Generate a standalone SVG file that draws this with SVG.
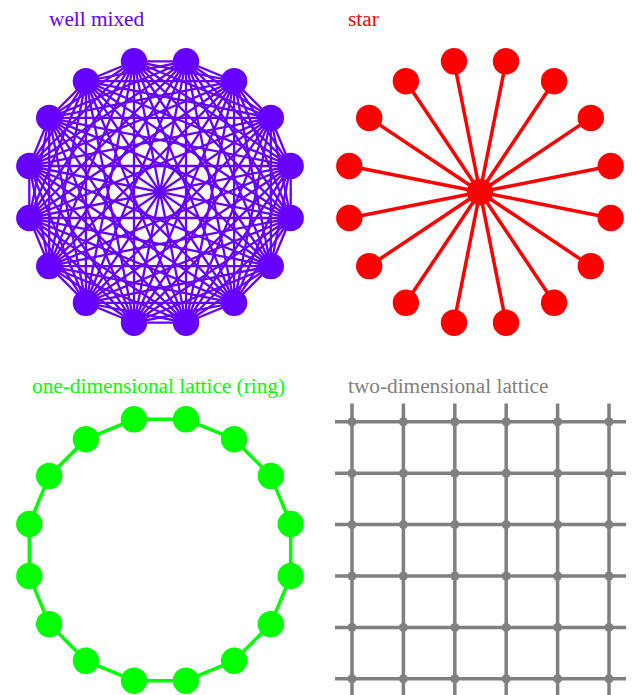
<svg xmlns="http://www.w3.org/2000/svg" width="632" height="695" viewBox="0 0 632 695">
<style>
.t{font-family:"Liberation Serif","Times New Roman",serif;font-size:21.3px}
.wm{fill:#6600ff}
.st{fill:#ff0000}
.rg{fill:#00ff00}
.lt{fill:#808080}
.ewm{fill:none;stroke:#6600ff;stroke-width:2.3}
.est{fill:none;stroke:#ff0000;stroke-width:3.5}
.erg{fill:none;stroke:#00ff00;stroke-width:3.5}
.elt{fill:none;stroke:#808080;stroke-width:3.5}
</style>
<defs>
<circle id="big" r="13.2"/>
<circle id="dot" r="4.5"/>
</defs>
<rect width="632" height="695" fill="#ffffff"/>
<g id="titles">
<text class="t wm" x="49" y="26">well mixed</text>
<text class="t st" x="348" y="26">star</text>
<text class="t rg" x="32" y="393">one-dimensional lattice (ring)</text>
<text class="t lt" x="348" y="393">two-dimensional lattice</text>
</g>
<g id="connectors">
<g id="wm-edges" class="ewm">
<polygon points="290.7,218 270.8,266.1 234.1,302.8 186,322.7 134,322.7 85.9,302.8 49.2,266.1 29.3,218 29.3,166 49.2,117.9 85.9,81.2 134,61.3 186,61.3 234.1,81.2 270.8,117.9 290.7,166"/>
<polygon points="290.7,218 186,322.7 49.2,266.1 49.2,117.9 186,61.3 290.7,166 234.1,302.8 85.9,302.8 29.3,166 134,61.3 270.8,117.9 270.8,266.1 134,322.7 29.3,218 85.9,81.2 234.1,81.2"/>
<polygon points="290.7,218 85.9,302.8 85.9,81.2 290.7,166 134,322.7 49.2,117.9 270.8,117.9 186,322.7 29.3,166 234.1,81.2 234.1,302.8 29.3,218 186,61.3 270.8,266.1 49.2,266.1 134,61.3"/>
<polygon points="290.7,218 29.3,218 270.8,117.9 85.9,302.8 186,61.3 186,322.7 85.9,81.2 270.8,266.1 29.3,166 290.7,166 49.2,266.1 234.1,81.2 134,322.7 134,61.3 234.1,302.8 49.2,117.9"/>
<polygon points="290.7,218 234.1,302.8 134,322.7 49.2,266.1 29.3,166 85.9,81.2 186,61.3 270.8,117.9"/>
<polygon points="270.8,266.1 186,322.7 85.9,302.8 29.3,218 49.2,117.9 134,61.3 234.1,81.2 290.7,166"/>
<polygon points="290.7,218 49.2,266.1 186,61.3 234.1,302.8 29.3,166 270.8,117.9 134,322.7 85.9,81.2"/>
<polygon points="270.8,266.1 29.3,218 234.1,81.2 186,322.7 49.2,117.9 290.7,166 85.9,302.8 134,61.3"/>
<polygon points="290.7,218 134,322.7 29.3,166 186,61.3"/>
<polygon points="270.8,266.1 85.9,302.8 49.2,117.9 234.1,81.2"/>
<polygon points="234.1,302.8 49.2,266.1 85.9,81.2 270.8,117.9"/>
<polygon points="186,322.7 29.3,218 134,61.3 290.7,166"/>
<path d="M290.7,218L29.3,166M270.8,266.1L49.2,117.9M234.1,302.8L85.9,81.2M186,322.7L134,61.3M134,322.7L186,61.3M85.9,302.8L234.1,81.2M49.2,266.1L270.8,117.9M29.3,218L290.7,166"/>
</g>
<g id="star-edges" class="est">
<path d="M480,192L610.7,218M480,192L590.8,266.1M480,192L554.1,302.8M480,192L506,322.7M480,192L454,322.7M480,192L405.9,302.8M480,192L369.2,266.1M480,192L349.3,218M480,192L349.3,166M480,192L369.2,117.9M480,192L405.9,81.2M480,192L454,61.3M480,192L506,61.3M480,192L554.1,81.2M480,192L590.8,117.9M480,192L610.7,166"/>
</g>
<g id="ring-edges" class="erg">
<polygon points="290.7,576 270.8,624.1 234.1,660.8 186,680.7 134,680.7 85.9,660.8 49.2,624.1 29.3,576 29.3,524 49.2,475.9 85.9,439.2 134,419.3 186,419.3 234.1,439.2 270.8,475.9 290.7,524"/>
</g>
<g id="lattice-edges" class="elt">
<path d="M335,421.8H626M335,473.2H626M335,524.6H626M335,576H626M335,627.4H626M335,678.8H626"/>
<path d="M352,403.5V700M403.4,403.5V700M454.8,403.5V700M506.2,403.5V700M557.6,403.5V700M609,403.5V700"/>
</g>
</g>
<g id="wm-nodes" class="wm">
<g id="wm0"><use href="#big" x="290.7" y="218"/></g>
<g id="wm1"><use href="#big" x="270.8" y="266.1"/></g>
<g id="wm2"><use href="#big" x="234.1" y="302.8"/></g>
<g id="wm3"><use href="#big" x="186" y="322.7"/></g>
<g id="wm4"><use href="#big" x="134" y="322.7"/></g>
<g id="wm5"><use href="#big" x="85.9" y="302.8"/></g>
<g id="wm6"><use href="#big" x="49.2" y="266.1"/></g>
<g id="wm7"><use href="#big" x="29.3" y="218"/></g>
<g id="wm8"><use href="#big" x="29.3" y="166"/></g>
<g id="wm9"><use href="#big" x="49.2" y="117.9"/></g>
<g id="wm10"><use href="#big" x="85.9" y="81.2"/></g>
<g id="wm11"><use href="#big" x="134" y="61.3"/></g>
<g id="wm12"><use href="#big" x="186" y="61.3"/></g>
<g id="wm13"><use href="#big" x="234.1" y="81.2"/></g>
<g id="wm14"><use href="#big" x="270.8" y="117.9"/></g>
<g id="wm15"><use href="#big" x="290.7" y="166"/></g>
</g>
<g id="star-nodes" class="st">
<g id="stc"><use href="#big" x="480" y="192"/></g>
<g id="st0"><use href="#big" x="610.7" y="218"/></g>
<g id="st1"><use href="#big" x="590.8" y="266.1"/></g>
<g id="st2"><use href="#big" x="554.1" y="302.8"/></g>
<g id="st3"><use href="#big" x="506" y="322.7"/></g>
<g id="st4"><use href="#big" x="454" y="322.7"/></g>
<g id="st5"><use href="#big" x="405.9" y="302.8"/></g>
<g id="st6"><use href="#big" x="369.2" y="266.1"/></g>
<g id="st7"><use href="#big" x="349.3" y="218"/></g>
<g id="st8"><use href="#big" x="349.3" y="166"/></g>
<g id="st9"><use href="#big" x="369.2" y="117.9"/></g>
<g id="st10"><use href="#big" x="405.9" y="81.2"/></g>
<g id="st11"><use href="#big" x="454" y="61.3"/></g>
<g id="st12"><use href="#big" x="506" y="61.3"/></g>
<g id="st13"><use href="#big" x="554.1" y="81.2"/></g>
<g id="st14"><use href="#big" x="590.8" y="117.9"/></g>
<g id="st15"><use href="#big" x="610.7" y="166"/></g>
</g>
<g id="ring-nodes" class="rg">
<g id="rg0"><use href="#big" x="290.7" y="576"/></g>
<g id="rg1"><use href="#big" x="270.8" y="624.1"/></g>
<g id="rg2"><use href="#big" x="234.1" y="660.8"/></g>
<g id="rg3"><use href="#big" x="186" y="680.7"/></g>
<g id="rg4"><use href="#big" x="134" y="680.7"/></g>
<g id="rg5"><use href="#big" x="85.9" y="660.8"/></g>
<g id="rg6"><use href="#big" x="49.2" y="624.1"/></g>
<g id="rg7"><use href="#big" x="29.3" y="576"/></g>
<g id="rg8"><use href="#big" x="29.3" y="524"/></g>
<g id="rg9"><use href="#big" x="49.2" y="475.9"/></g>
<g id="rg10"><use href="#big" x="85.9" y="439.2"/></g>
<g id="rg11"><use href="#big" x="134" y="419.3"/></g>
<g id="rg12"><use href="#big" x="186" y="419.3"/></g>
<g id="rg13"><use href="#big" x="234.1" y="439.2"/></g>
<g id="rg14"><use href="#big" x="270.8" y="475.9"/></g>
<g id="rg15"><use href="#big" x="290.7" y="524"/></g>
</g>
<g id="lattice-nodes" class="lt">
<g id="l00"><use href="#dot" x="352" y="421.8"/></g><g id="l01"><use href="#dot" x="403.4" y="421.8"/></g><g id="l02"><use href="#dot" x="454.8" y="421.8"/></g><g id="l03"><use href="#dot" x="506.2" y="421.8"/></g><g id="l04"><use href="#dot" x="557.6" y="421.8"/></g><g id="l05"><use href="#dot" x="609" y="421.8"/></g>
<g id="l10"><use href="#dot" x="352" y="473.2"/></g><g id="l11"><use href="#dot" x="403.4" y="473.2"/></g><g id="l12"><use href="#dot" x="454.8" y="473.2"/></g><g id="l13"><use href="#dot" x="506.2" y="473.2"/></g><g id="l14"><use href="#dot" x="557.6" y="473.2"/></g><g id="l15"><use href="#dot" x="609" y="473.2"/></g>
<g id="l20"><use href="#dot" x="352" y="524.6"/></g><g id="l21"><use href="#dot" x="403.4" y="524.6"/></g><g id="l22"><use href="#dot" x="454.8" y="524.6"/></g><g id="l23"><use href="#dot" x="506.2" y="524.6"/></g><g id="l24"><use href="#dot" x="557.6" y="524.6"/></g><g id="l25"><use href="#dot" x="609" y="524.6"/></g>
<g id="l30"><use href="#dot" x="352" y="576"/></g><g id="l31"><use href="#dot" x="403.4" y="576"/></g><g id="l32"><use href="#dot" x="454.8" y="576"/></g><g id="l33"><use href="#dot" x="506.2" y="576"/></g><g id="l34"><use href="#dot" x="557.6" y="576"/></g><g id="l35"><use href="#dot" x="609" y="576"/></g>
<g id="l40"><use href="#dot" x="352" y="627.4"/></g><g id="l41"><use href="#dot" x="403.4" y="627.4"/></g><g id="l42"><use href="#dot" x="454.8" y="627.4"/></g><g id="l43"><use href="#dot" x="506.2" y="627.4"/></g><g id="l44"><use href="#dot" x="557.6" y="627.4"/></g><g id="l45"><use href="#dot" x="609" y="627.4"/></g>
<g id="l50"><use href="#dot" x="352" y="678.8"/></g><g id="l51"><use href="#dot" x="403.4" y="678.8"/></g><g id="l52"><use href="#dot" x="454.8" y="678.8"/></g><g id="l53"><use href="#dot" x="506.2" y="678.8"/></g><g id="l54"><use href="#dot" x="557.6" y="678.8"/></g><g id="l55"><use href="#dot" x="609" y="678.8"/></g>
</g>
</svg>
